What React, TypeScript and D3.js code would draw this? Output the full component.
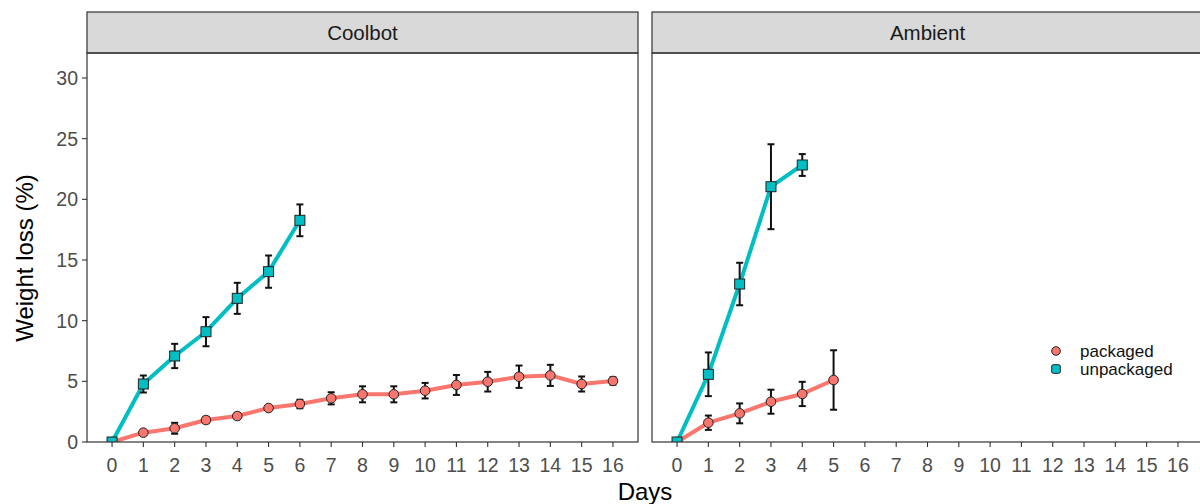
import React from "react";
import * as d3 from "d3";

const days = d3.range(0, 17);
const yTicks = [0, 5, 10, 15, 20, 25, 30];
const panels = ["Coolbot", "Ambient"];

// Coolbot
const coolPackDays = [0, 1, 2, 3, 4, 5, 6, 7, 8, 9, 10, 11, 12, 13, 14, 15, 16];
const coolPackMean = [0, 0.77, 1.13, 1.81, 2.14, 2.8, 3.13, 3.6, 3.93, 3.93, 4.23, 4.7, 4.97, 5.38, 5.49, 4.78, 5.03];
const coolPackErr = [0, 0.2, 0.45, 0.25, 0.25, 0.2, 0.35, 0.5, 0.66, 0.66, 0.64, 0.82, 0.81, 0.92, 0.87, 0.62, 0.3];
const coolUnpDays = [0, 1, 2, 3, 4, 5, 6];
const coolUnpMean = [0, 4.78, 7.09, 9.09, 11.84, 14.04, 18.27];
const coolUnpErr = [0, 0.7, 1.0, 1.2, 1.28, 1.33, 1.31];
// Ambient
const ambPackDays = [0, 1, 2, 3, 4, 5];
const ambPackMean = [0, 1.59, 2.36, 3.32, 3.96, 5.11];
const ambPackErr = [0, 0.59, 0.82, 0.99, 1.0, 2.45];
const ambUnpDays = [0, 1, 2, 3, 4];
const ambUnpMean = [0, 5.58, 13.02, 21.04, 22.83];
const ambUnpErr = [0, 1.8, 1.75, 3.5, 0.9];

const seriesNames = ["packaged", "unpackaged"];
const colors = ["#F8766D", "#00BFC4"];

type S = { days: number[]; mean: number[]; err: number[]; k: number };
const panelSeries: S[][] = [
  [
    { days: coolPackDays, mean: coolPackMean, err: coolPackErr, k: 0 },
    { days: coolUnpDays, mean: coolUnpMean, err: coolUnpErr, k: 1 },
  ],
  [
    { days: ambPackDays, mean: ambPackMean, err: ambPackErr, k: 0 },
    { days: ambUnpDays, mean: ambUnpMean, err: ambUnpErr, k: 1 },
  ],
];

const panelX = [87, 652];
const panelW = 551;
const stripTop = 12;
const panelTop = 53;
const panelBottom = 442;
const font = "Liberation Sans, Arial, sans-serif";

export default function App() {
  const y = d3.scaleLinear().domain([0, 32.06]).range([panelBottom, panelTop]);
  return (
    <svg width={1200} height={504} style={{ position: "absolute", left: 0, top: 0, background: "#fff" }} fontFamily={font}>
      {panels.map((name, pi) => {
        const x0 = panelX[pi];
        const x = d3.scaleLinear().domain([-0.8, 16.8]).range([x0, x0 + panelW]);
        return (
          <g key={name}>
            <rect x={x0} y={stripTop} width={panelW} height={panelTop - stripTop} fill="#D9D9D9" stroke="#333" strokeWidth={1.2} />
            <text x={x0 + panelW / 2} y={(stripTop + panelTop) / 2} dy="0.36em" textAnchor="middle" fontSize={20.5} fill="#1A1A1A">{name}</text>
            {days.map((d) => (
              <g key={d}>
                <line x1={x(d)} x2={x(d)} y1={panelBottom} y2={panelBottom + 5} stroke="#333" strokeWidth={1.1} />
                <text x={x(d)} y={panelBottom + 30} textAnchor="middle" fontSize={19.5} fill="#4D4D4D">{d}</text>
              </g>
            ))}
            {pi === 0 && yTicks.map((t) => (
              <g key={t}>
                <line x1={x0 - 5} x2={x0} y1={y(t)} y2={y(t)} stroke="#333" strokeWidth={1.1} />
                <text x={x0 - 9} y={y(t)} dy="0.36em" textAnchor="end" fontSize={19.5} fill="#4D4D4D">{t}</text>
              </g>
            ))}
            <g>
              <defs>
                <clipPath id={`clip${pi}`}>
                  <rect x={x0} y={panelTop} width={panelW} height={panelBottom - panelTop} />
                </clipPath>
              </defs>
              <g clipPath={`url(#clip${pi})`}>
                {panelSeries[pi].map((s) => {
                  const line = d3.line<number>().x((_, i) => x(s.days[i])).y((v) => y(v));
                  return (
                    <path key={s.k} d={line(s.mean) || ""} fill="none" stroke={colors[s.k]} strokeWidth={4} strokeLinejoin="round" />
                  );
                })}
                {panelSeries[pi].map((s) => (
                  <g key={s.k}>
                    {s.days.map((d, i) => s.err[i] > 0 ? (
                      <g key={d} stroke="#111" strokeWidth={2}>
                        <line x1={x(d)} x2={x(d)} y1={y(s.mean[i] - s.err[i])} y2={y(s.mean[i] + s.err[i])} />
                        <line x1={x(d) - 3.5} x2={x(d) + 3.5} y1={y(s.mean[i] - s.err[i])} y2={y(s.mean[i] - s.err[i])} />
                        <line x1={x(d) - 3.5} x2={x(d) + 3.5} y1={y(s.mean[i] + s.err[i])} y2={y(s.mean[i] + s.err[i])} />
                      </g>
                    ) : null)}
                  </g>
                ))}
                {panelSeries[pi].map((s) => (
                  <g key={s.k}>
                    {s.days.map((d, i) => s.k === 0 ? (
                      <circle key={d} cx={x(d)} cy={y(s.mean[i])} r={4.8} fill={colors[0]} stroke="#222" strokeWidth={1} />
                    ) : (
                      <rect key={d} x={x(d) - 5} y={y(s.mean[i]) - 5} width={10} height={10} fill={colors[1]} stroke="#222" strokeWidth={1} />
                    ))}
                  </g>
                ))}
              </g>
            </g>
            <rect x={x0} y={panelTop} width={panelW} height={panelBottom - panelTop} fill="none" stroke="#333" strokeWidth={1.2} />
          </g>
        );
      })}
      <text transform={`translate(33,258) rotate(-90)`} textAnchor="middle" fontSize={24} fill="#000">Weight loss (%)</text>
      <text x={(panelX[0] + panelX[1] + panelW) / 2} y={500} textAnchor="middle" fontSize={24} fill="#000">Days</text>
      <rect x={1040} y={338} width={160} height={46} fill="#fff" />
      {seriesNames.map((n, i) => (
        <g key={n} transform={`translate(1056,${351 + i * 18})`}>
          {i === 0 ? (
            <circle r={4.3} fill={colors[0]} stroke="#222" strokeWidth={1} />
          ) : (
            <rect x={-4.3} y={-4.3} width={8.6} height={8.6} rx={1.5} fill={colors[1]} stroke="#222" strokeWidth={1} />
          )}
          <text x={24} dy="0.34em" fontSize={17} fill="#111">{n}</text>
        </g>
      ))}
    </svg>
  );
}
